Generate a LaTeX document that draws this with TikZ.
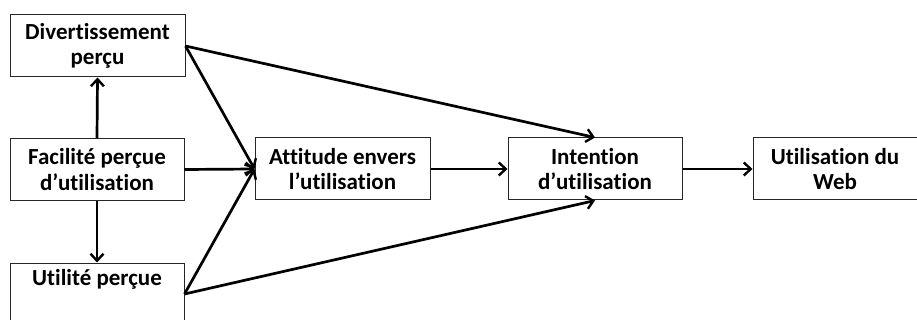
\documentclass[tikz,border=0pt]{standalone}
\usepackage{fontspec}
\setmainfont[Ligatures=NoCommon]{Carlito}
\usetikzlibrary{arrows.meta}
\begin{document}
\begin{tikzpicture}[x=1pt,y=-1pt,
  box/.style={draw=black!85, line width=1pt, minimum height=62pt, inner sep=0pt, align=center,
    font=\fontsize{23}{25.5}\selectfont\bfseries},
  arr/.style={line width=2.7pt, -{Straight Barb[length=7pt,width=13pt,line width=2.4pt]}}]
\useasboundingbox[fill=white] (0,0) rectangle (917,320);
\node[box, minimum width=175pt] (div) at (97.5,46) {Divertissement\\perçu};
\node[box, minimum width=174pt] (fac) at (97,169.5) {Facilité perçue\\d’utilisation};
\node[box, minimum width=174pt] (uti) at (97,294) {Utilité perçue\\\strut};
\node[box, minimum width=175pt] (att) at (342.5,169) {Attitude envers\\l’utilisation};
\node[box, minimum width=174pt] (int) at (595,169) {Intention\\d’utilisation};
\node[box, minimum width=164pt] (web) at (835,169) {Utilisation du\\Web};
\draw[arr] (fac.north) -- (div.south);
\draw[arr] (fac.south) -- (uti.north);
\draw[arr] (div.east) -- (att.west);
\draw[arr] (fac.east) -- (att.west);
\draw[arr] (uti.east) -- (att.west);
\draw[arr] (div.east) -- (int.north);
\draw[arr] (uti.east) -- (int.south);
\draw[arr] (att.east) -- (int.west);
\draw[arr] (int.east) -- (web.west);
\end{tikzpicture}
\end{document}
